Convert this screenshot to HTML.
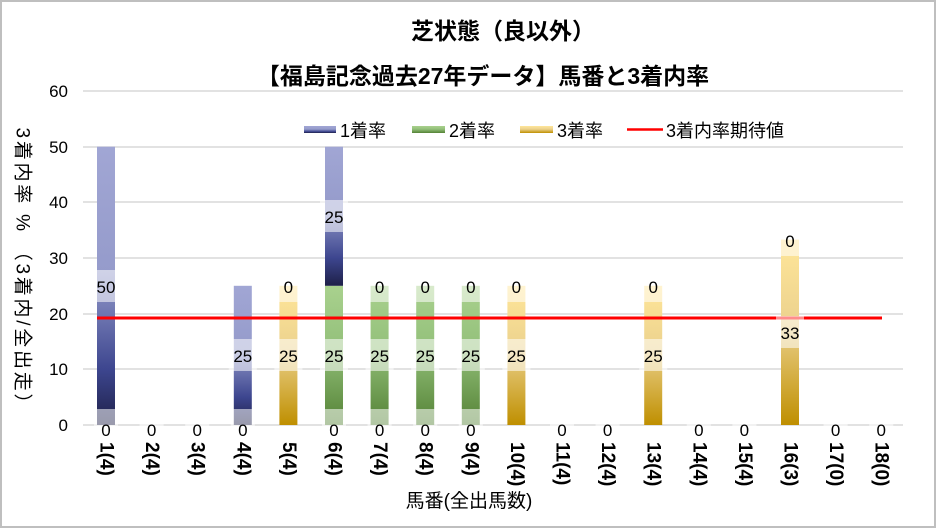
<!DOCTYPE html>
<html><head><meta charset="utf-8"><style>
html,body{margin:0;padding:0;background:#fff}
svg{display:block}
text{font-family:"Liberation Sans","Noto Sans CJK JP",sans-serif;fill:#000}
</style></head><body>
<svg width="937" height="529" viewBox="0 0 937 529" xmlns="http://www.w3.org/2000/svg">
<defs>
<linearGradient id="gb" x1="0" y1="0" x2="0" y2="1">
<stop offset="0" stop-color="#a1a6d4"/><stop offset="0.45" stop-color="#959bcb"/><stop offset="0.8" stop-color="#3d468f"/><stop offset="1" stop-color="#1e2048"/></linearGradient>
<linearGradient id="gg" x1="0" y1="0" x2="0" y2="1">
<stop offset="0" stop-color="#a9d18e"/><stop offset="0.45" stop-color="#93c07a"/><stop offset="1" stop-color="#548235"/></linearGradient>
<linearGradient id="gy" x1="0" y1="0" x2="0" y2="1">
<stop offset="0" stop-color="#ffe699"/><stop offset="0.45" stop-color="#ecd28e"/><stop offset="1" stop-color="#bf8f00"/></linearGradient>
</defs>
<rect x="1" y="1" width="934" height="526" fill="#fff" stroke="#bfbfbf" stroke-width="2"/>
<text x="503" y="39" font-size="23" font-weight="bold" text-anchor="middle">芝状態（良以外）</text>
<text x="483" y="84" font-size="23" font-weight="bold" text-anchor="middle">【福島記念過去27年データ】馬番と3着内率</text>
<g stroke="#d9d9d9" stroke-width="1.5">
<line x1="83" y1="91" x2="903" y2="91"/><line x1="83" y1="147" x2="903" y2="147"/><line x1="83" y1="202" x2="903" y2="202"/><line x1="83" y1="258" x2="903" y2="258"/><line x1="83" y1="314" x2="903" y2="314"/><line x1="83" y1="369" x2="903" y2="369"/><line x1="83" y1="425" x2="903" y2="425"/>
</g>
<g font-size="17" text-anchor="end">
<text x="68" y="97">60</text><text x="68" y="153">50</text><text x="68" y="208">40</text><text x="68" y="264">30</text><text x="68" y="320">20</text><text x="68" y="375">10</text><text x="68" y="431">0</text>
</g>
<text transform="translate(22,270) rotate(90)" font-size="19" text-anchor="middle" dominant-baseline="central" textLength="285" lengthAdjust="spacing">3着内率 %  （3着内/全出走）</text>
<!-- legend -->
<rect x="304" y="126" width="32" height="7" fill="url(#gb)"/><text x="340" y="137" font-size="18">1着率</text>
<rect x="412" y="126" width="33" height="7" fill="url(#gg)"/><text x="449" y="137" font-size="18">2着率</text>
<rect x="520" y="126" width="33" height="7" fill="url(#gy)"/><text x="557" y="137" font-size="18">3着率</text>
<line x1="627" y1="129.5" x2="663" y2="129.5" stroke="#ff0000" stroke-width="2.5"/><text x="666" y="137" font-size="18">3着内率期待値</text>
<!-- bars -->
<rect x="97" y="146.7" width="18" height="278.3" fill="url(#gb)"/>
<rect x="233.8" y="285.8" width="18" height="139.2" fill="url(#gb)"/>
<rect x="279.4" y="285.8" width="18" height="139.2" fill="url(#gy)"/>
<rect x="325" y="285.8" width="18" height="139.2" fill="url(#gg)"/>
<rect x="325" y="146.7" width="18" height="139.1" fill="url(#gb)"/>
<rect x="370.6" y="285.8" width="18" height="139.2" fill="url(#gg)"/>
<rect x="416.2" y="285.8" width="18" height="139.2" fill="url(#gg)"/>
<rect x="461.8" y="285.8" width="18" height="139.2" fill="url(#gg)"/>
<rect x="507.4" y="285.8" width="18" height="139.2" fill="url(#gy)"/>
<rect x="644.2" y="285.8" width="18" height="139.2" fill="url(#gy)"/>
<rect x="781" y="239.6" width="18" height="185.4" fill="url(#gy)"/>
<line x1="97" y1="318" x2="882" y2="318" stroke="#ff0000" stroke-width="3"/>
<!-- label boxes -->
<g fill="#fff" fill-opacity="0.55">
<rect x="94" y="270" width="24" height="32"/>
<rect x="94" y="409" width="24" height="32"/>
<rect x="139.6" y="409" width="24" height="32"/>
<rect x="185.2" y="409" width="24" height="32"/>
<rect x="228.8" y="339" width="28" height="32"/><rect x="230.8" y="409" width="24" height="32"/>
<rect x="276.4" y="270" width="24" height="32"/><rect x="274.4" y="339" width="28" height="32"/>
<rect x="320" y="200" width="28" height="32"/><rect x="320" y="339" width="28" height="32"/><rect x="322" y="409" width="24" height="32"/>
<rect x="367.6" y="270" width="24" height="32"/><rect x="365.6" y="339" width="28" height="32"/><rect x="367.6" y="409" width="24" height="32"/>
<rect x="413.2" y="270" width="24" height="32"/><rect x="411.2" y="339" width="28" height="32"/><rect x="413.2" y="409" width="24" height="32"/>
<rect x="458.8" y="270" width="24" height="32"/><rect x="456.8" y="339" width="28" height="32"/><rect x="458.8" y="409" width="24" height="32"/>
<rect x="504.4" y="270" width="24" height="32"/><rect x="502.4" y="339" width="28" height="32"/>
<rect x="550" y="409" width="24" height="32"/><rect x="595.6" y="409" width="24" height="32"/>
<rect x="641.2" y="270" width="24" height="32"/><rect x="639.2" y="339" width="28" height="32"/>
<rect x="686.8" y="409" width="24" height="32"/><rect x="732.4" y="409" width="24" height="32"/>
<rect x="778" y="224" width="24" height="32"/><rect x="776" y="316" width="28" height="32"/>
<rect x="823.6" y="409" width="24" height="32"/><rect x="869.2" y="409" width="24" height="32"/>
</g>
<g font-size="17" text-anchor="middle">
<text x="106" y="293">50</text><text x="106" y="436">0</text>
<text x="151.6" y="436">0</text><text x="197.2" y="436">0</text>
<text x="242.8" y="362">25</text><text x="242.8" y="436">0</text>
<text x="288.4" y="293">0</text><text x="288.4" y="362">25</text>
<text x="334" y="223">25</text><text x="334" y="362">25</text><text x="334" y="436">0</text>
<text x="379.6" y="293">0</text><text x="379.6" y="362">25</text><text x="379.6" y="436">0</text>
<text x="425.2" y="293">0</text><text x="425.2" y="362">25</text><text x="425.2" y="436">0</text>
<text x="470.8" y="293">0</text><text x="470.8" y="362">25</text><text x="470.8" y="436">0</text>
<text x="516.4" y="293">0</text><text x="516.4" y="362">25</text>
<text x="562" y="436">0</text><text x="607.6" y="436">0</text>
<text x="653.2" y="293">0</text><text x="653.2" y="362">25</text>
<text x="698.8" y="436">0</text><text x="744.4" y="436">0</text>
<text x="790" y="247">0</text><text x="790" y="339">33</text>
<text x="835.6" y="436">0</text><text x="881.2" y="436">0</text>
</g>
<g font-size="19" font-weight="bold" dominant-baseline="central">
<text transform="translate(106,442) rotate(90)">1(4)</text>
<text transform="translate(151.6,442) rotate(90)">2(4)</text>
<text transform="translate(197.2,442) rotate(90)">3(4)</text>
<text transform="translate(242.8,442) rotate(90)">4(4)</text>
<text transform="translate(288.4,442) rotate(90)">5(4)</text>
<text transform="translate(334,442) rotate(90)">6(4)</text>
<text transform="translate(379.6,442) rotate(90)">7(4)</text>
<text transform="translate(425.2,442) rotate(90)">8(4)</text>
<text transform="translate(470.8,442) rotate(90)">9(4)</text>
<text transform="translate(516.4,442) rotate(90)">10(4)</text>
<text transform="translate(562,442) rotate(90)">11(4)</text>
<text transform="translate(607.6,442) rotate(90)">12(4)</text>
<text transform="translate(653.2,442) rotate(90)">13(4)</text>
<text transform="translate(698.8,442) rotate(90)">14(4)</text>
<text transform="translate(744.4,442) rotate(90)">15(4)</text>
<text transform="translate(790,442) rotate(90)">16(3)</text>
<text transform="translate(835.6,442) rotate(90)">17(0)</text>
<text transform="translate(881.2,442) rotate(90)">18(0)</text>
</g>
<text x="469" y="507" font-size="19" text-anchor="middle">馬番(全出馬数)</text>
</svg>
</body></html>
